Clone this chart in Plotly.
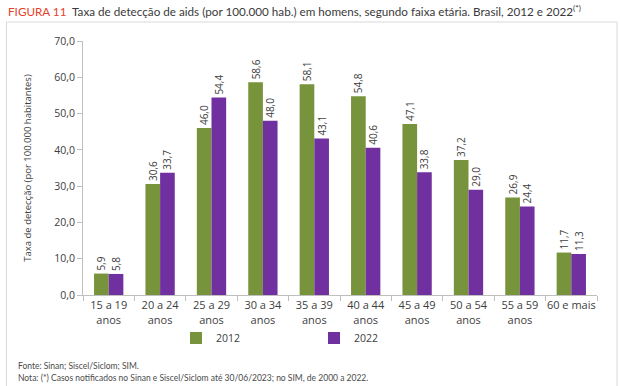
import plotly.graph_objects as go

categories = ["15 a 19<br>anos", "20 a 24<br>anos", "25 a 29<br>anos", "30 a 34<br>anos",
              "35 a 39<br>anos", "40 a 44<br>anos", "45 a 49<br>anos", "50 a 54<br>anos",
              "55 a 59<br>anos", "60 e mais"]
values_2012 = [5.9, 30.6, 46.0, 58.6, 58.1, 54.8, 47.1, 37.2, 26.9, 11.7]
values_2022 = [5.8, 33.7, 54.4, 48.0, 43.1, 40.6, 33.8, 29.0, 24.4, 11.3]
series_names = ["2012", "2022"]
y_ticks = [0, 10, 20, 30, 40, 50, 60, 70]

GREEN = "#77933C"
PURPLE = "#7030A0"
TXT = "#404040"
FONT = "Open Sans"

def fmt(v):
    return f"{v:.1f}".replace(".", ",")

fig = go.Figure()
for name, vals, col in [(series_names[0], values_2012, GREEN), (series_names[1], values_2022, PURPLE)]:
    fig.add_bar(
        x=categories, y=vals, name=name, marker_color=col, marker_line_width=0,
        text=[fmt(v) for v in vals], textposition="outside", textangle=-90,
        constraintext="none",
        textfont=dict(family=FONT, size=10, color=TXT), cliponaxis=False,
    )

L, R, T, B = 83, 23, 41, 91
W, H = 620, 386
pw, ph = W - L - R, H - T - B

def px_x(x):
    return (x - L) / pw

def px_y(y):
    return (H - B - y) / ph

fig.update_layout(
    width=W, height=H, margin=dict(l=L, r=R, t=T, b=B, autoexpand=False),
    paper_bgcolor="white", plot_bgcolor="white",
    barmode="group", bargap=0.43, bargroupgap=0,
    separators=",.",
    font=dict(family=FONT, color=TXT, size=10.5),
    showlegend=True,
    legend=dict(orientation="h", x=px_x(176), xanchor="left", y=px_y(338), yanchor="middle",
                entrywidth=93, entrywidthmode="pixels", traceorder="normal",
                font=dict(size=10.5, color=TXT), itemwidth=30),
    xaxis=dict(showline=True, linecolor="#BFBFBF", linewidth=1, ticks="outside",
               tickson="boundaries", ticklen=5, tickcolor="#BFBFBF", tickangle=0,
               automargin=False,
               tickfont=dict(size=11, color=TXT), showgrid=False),
    yaxis=dict(range=[0, 70], tickvals=y_ticks, tickformat=".1f", automargin=False,
               showline=True, linecolor="#BFBFBF", linewidth=1, ticks="outside",
               ticklen=5, tickcolor="#BFBFBF", showgrid=False, zeroline=False,
               tickfont=dict(size=10.5, color=TXT),
               title=dict(text="Taxa de detecção (por 100.000 habitantes)",
                          font=dict(size=9.5, color=TXT), standoff=20)),
)

fig.add_shape(type="rect", xref="paper", yref="paper",
              x0=px_x(6.5), x1=px_x(617), y0=px_y(392), y1=px_y(22),
              line=dict(color="#D9D9D9", width=1), fillcolor="rgba(0,0,0,0)", layer="below")

fig.add_annotation(
    xref="paper", yref="paper", x=px_x(6), y=px_y(11), xanchor="left", yanchor="middle",
    showarrow=False,
    text="<span style='color:#E5422B'>FIGURA 11</span>  Taxa de detecção de aids (por 100.000 hab.) em homens, segundo faixa etária. Brasil, 2012 e 2022<sup>(*)</sup>",
    font=dict(family="Lato", size=11.7, color="#3A3A3A"),
)
fig.add_annotation(
    xref="paper", yref="paper", x=px_x(16), y=px_y(366), xanchor="left", yanchor="middle",
    showarrow=False, text="Fonte: Sinan; Siscel/Siclom; SIM.",
    font=dict(family="Lato", size=8.5, color="#4A4A4A"),
)
fig.add_annotation(
    xref="paper", yref="paper", x=px_x(16), y=px_y(378), xanchor="left", yanchor="middle",
    showarrow=False, text="Nota: (*) Casos notificados no Sinan e Siscel/Siclom até 30/06/2023; no SIM, de 2000 a 2022.",
    font=dict(family="Lato", size=8.5, color="#4A4A4A"),
)

fig.write_html("out.html", config={"displayModeBar": False},
               post_script="document.body.style.margin='0';document.body.style.padding='0';")
